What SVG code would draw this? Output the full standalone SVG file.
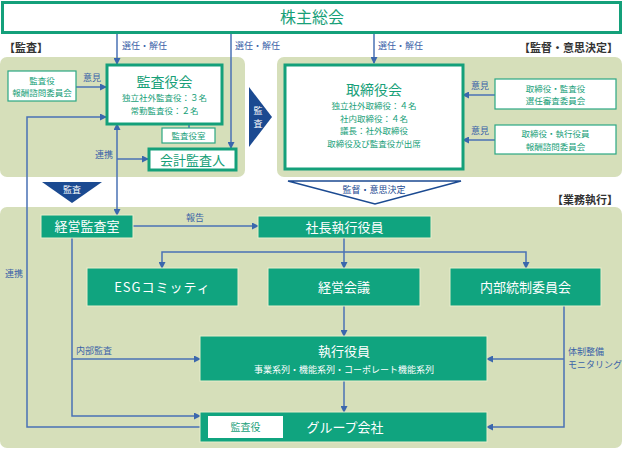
<svg xmlns="http://www.w3.org/2000/svg" width="624" height="450" viewBox="0 0 624 450">
<defs>
<marker id="ah" markerWidth="7" markerHeight="7" refX="6" refY="3.5" orient="auto" markerUnits="userSpaceOnUse"><path d="M0,0 L7,3.5 L0,7 z" fill="#3b67ad"/></marker>
<marker id="as" markerWidth="7" markerHeight="7" refX="1" refY="3.5" orient="auto" markerUnits="userSpaceOnUse"><path d="M7,0 L0,3.5 L7,7 z" fill="#3b67ad"/></marker>
</defs>
<style>
text{font-family:"Noto Sans CJK JP","Noto Sans",sans-serif;}
.panel{fill:#d6dfba;}
.thick{fill:#fff;stroke:#14a07a;stroke-width:3;}
.thin{fill:#fff;stroke:#2aa783;stroke-width:1.2;}
.solid{fill:#10a47f;stroke:#e8eecb;stroke-width:1;}
.gt{fill:#17a078;text-anchor:middle;}
.wt{fill:#fff;text-anchor:middle;}
.lb{fill:#3a62a8;font-size:9px;}
.br{fill:#333;font-size:11px;font-weight:bold;}
.ln{fill:none;stroke:#4a72b5;stroke-width:1.5;}
</style>

<!-- panels -->
<rect class="panel" x="0" y="57" width="245" height="120" rx="7"/>
<rect class="panel" x="277" y="57" width="345" height="120" rx="7"/>
<rect class="panel" x="0" y="207" width="622" height="241" rx="7"/>

<text class="br" x="4" y="52">【監査】</text>
<text class="br" x="618" y="52" text-anchor="end">【監督・意思決定】</text>
<text class="br" x="618" y="204" text-anchor="end">【業務執行】</text>

<!-- connectors -->
<g id="connectors">
<line class="ln" x1="117" y1="33" x2="117" y2="64" marker-end="url(#ah)"/>
<line class="ln" x1="231" y1="33" x2="231" y2="148" marker-end="url(#ah)"/>
<line class="ln" x1="374" y1="33" x2="374" y2="63" marker-end="url(#ah)"/>
<text class="lb" x="122" y="49">選任・解任</text>
<text class="lb" x="235" y="49">選任・解任</text>
<text class="lb" x="378" y="49">選任・解任</text>

<line class="ln" x1="76" y1="87" x2="106" y2="87" marker-end="url(#ah)"/>
<text class="lb" x="83" y="81">意見</text>
<line class="ln" x1="189" y1="124" x2="189" y2="128"/>
<line class="ln" x1="117" y1="124" x2="117" y2="215" marker-start="url(#as)" marker-end="url(#ah)"/>
<line class="ln" x1="117" y1="159" x2="148" y2="159" marker-end="url(#ah)"/>
<text class="lb" x="95" y="158">連携</text>
<polyline class="ln" points="106,117 27,117 27,427 207,427" marker-start="url(#as)" marker-end="url(#ah)"/>
<text class="lb" x="5" y="277">連携</text>

<line class="ln" x1="495" y1="95" x2="463" y2="95" marker-end="url(#ah)"/>
<text class="lb" x="471" y="89">意見</text>
<line class="ln" x1="495" y1="140" x2="463" y2="140" marker-end="url(#ah)"/>
<text class="lb" x="471" y="134">意見</text>

<line class="ln" x1="133" y1="226" x2="258" y2="226" marker-end="url(#ah)"/>
<text class="lb" x="186" y="221">報告</text>
<line class="ln" x1="344" y1="238" x2="344" y2="268" marker-end="url(#ah)"/>
<polyline class="ln" points="162,268 162,252 526,252 526,268" marker-start="url(#as)" marker-end="url(#ah)"/>
<line class="ln" x1="344" y1="306" x2="344" y2="336" marker-end="url(#ah)"/>
<line class="ln" x1="344" y1="381" x2="344" y2="412" marker-end="url(#ah)"/>

<polyline class="ln" points="72,238 72,416 200,416" marker-end="url(#ah)"/>
<line class="ln" x1="72" y1="359" x2="200" y2="359" marker-end="url(#ah)"/>
<text class="lb" x="76" y="354">内部監査</text>

<polyline class="ln" points="564,306 564,427 487,427" marker-end="url(#ah)"/>
<line class="ln" x1="564" y1="359" x2="487" y2="359" marker-end="url(#ah)"/>
<text class="lb" x="568" y="355" font-size="8.5">体制整備</text>
<text class="lb" x="568" y="368" font-size="8.5">モニタリング</text>
</g>

<!-- big arrows -->
<g id="arrow-kansa-right">
<polygon points="249,87 272,117 249,147" fill="#1b4a91"/>
<text x="258" y="114" font-size="9" fill="#fff" text-anchor="middle">監</text>
<text x="258" y="127" font-size="9" fill="#fff" text-anchor="middle">査</text>
</g>
<g id="arrow-kansa-down">
<polygon points="42,182 102,182 72,203" fill="#1b4a91"/>
<text x="72" y="193" font-size="9" fill="#fff" text-anchor="middle">監査</text>
</g>
<g id="arrow-kantoku">
<polygon points="288,181 461,181 375,204" fill="#fff" stroke="#1b4a91" stroke-width="1.5"/>
<text x="374" y="193" font-size="9" fill="#1b4a91" text-anchor="middle">監督・意思決定</text>
</g>

<!-- nodes -->
<g id="kabunushi">
<rect class="thick" x="2.5" y="2.5" width="618" height="30"/>
<text class="gt" x="312" y="23" font-size="16">株主総会</text>
</g>
<g id="kansayaku-housyu">
<rect class="thin" x="8" y="71" width="68" height="30"/>
<text class="gt" x="42" y="83.5" font-size="8.5">監査役</text>
<text class="gt" x="42" y="96" font-size="8.5">報酬諮問委員会</text>
</g>
<g id="kansayakukai">
<rect class="thick" x="107" y="65" width="115" height="59"/>
<text class="gt" x="164.5" y="87" font-size="14">監査役会</text>
<text class="gt" x="164.5" y="101" font-size="8.5">独立社外監査役：３名</text>
<text class="gt" x="164.5" y="113.5" font-size="8.5">常勤監査役：２名</text>
</g>
<g id="kansayakushitsu">
<rect class="thin" x="162" y="128" width="53" height="15"/>
<text class="gt" x="188.5" y="139" font-size="8.5">監査役室</text>
</g>
<g id="kaikei">
<rect class="thick" x="149" y="149" width="87" height="21"/>
<text class="gt" x="192.5" y="164.5" font-size="13">会計監査人</text>
</g>
<g id="torishimariyakukai">
<rect class="thick" x="285" y="65" width="178" height="104"/>
<text class="gt" x="374" y="95" font-size="14">取締役会</text>
<text class="gt" x="374" y="109" font-size="8.5">独立社外取締役：４名</text>
<text class="gt" x="374" y="121.5" font-size="8.5">社内取締役：４名</text>
<text class="gt" x="374" y="134" font-size="8.5">議長：社外取締役</text>
<text class="gt" x="374" y="146.5" font-size="8.5">取締役及び監査役が出席</text>
</g>
<g id="senin-shinsa">
<rect class="thin" x="495" y="79" width="121" height="30"/>
<text class="gt" x="555.5" y="91.5" font-size="8.5">取締役・監査役</text>
<text class="gt" x="555.5" y="104" font-size="8.5">選任審査委員会</text>
</g>
<g id="housyu-shimon">
<rect class="thin" x="495" y="125" width="121" height="29"/>
<text class="gt" x="555.5" y="137" font-size="8.5">取締役・執行役員</text>
<text class="gt" x="555.5" y="149.5" font-size="8.5">報酬諮問委員会</text>
</g>
<g id="keiei-kansashitsu">
<rect class="solid" x="41" y="215" width="92" height="23"/>
<text class="wt" x="87" y="231" font-size="13">経営監査室</text>
</g>
<g id="shacho">
<rect class="solid" x="258" y="216" width="173" height="22"/>
<text class="wt" x="344.5" y="232" font-size="13">社長執行役員</text>
</g>
<g id="esg">
<rect class="solid" x="87" y="268" width="151" height="38"/>
<text class="wt" x="162.5" y="292" font-size="13" letter-spacing="1">ESGコミッティ</text>
</g>
<g id="keiei-kaigi">
<rect class="solid" x="268" y="268" width="152" height="38"/>
<text class="wt" x="344" y="292" font-size="13">経営会議</text>
</g>
<g id="naibu-tousei">
<rect class="solid" x="450" y="268" width="151" height="38"/>
<text class="wt" x="525.5" y="292" font-size="13">内部統制委員会</text>
</g>
<g id="shikkou-yakuin">
<rect class="solid" x="200" y="336" width="287" height="45"/>
<text class="wt" x="344" y="356" font-size="13">執行役員</text>
<text class="wt" x="344" y="373" font-size="9">事業系列・機能系列・コーポレート機能系列</text>
</g>
<g id="group">
<rect class="solid" x="200" y="412" width="287" height="30"/>
<rect x="208" y="416" width="75" height="22" fill="#fff"/>
<text class="gt" x="245.5" y="431" font-size="10">監査役</text>
<text class="wt" x="345" y="432" font-size="13">グループ会社</text>
</g>
</svg>
